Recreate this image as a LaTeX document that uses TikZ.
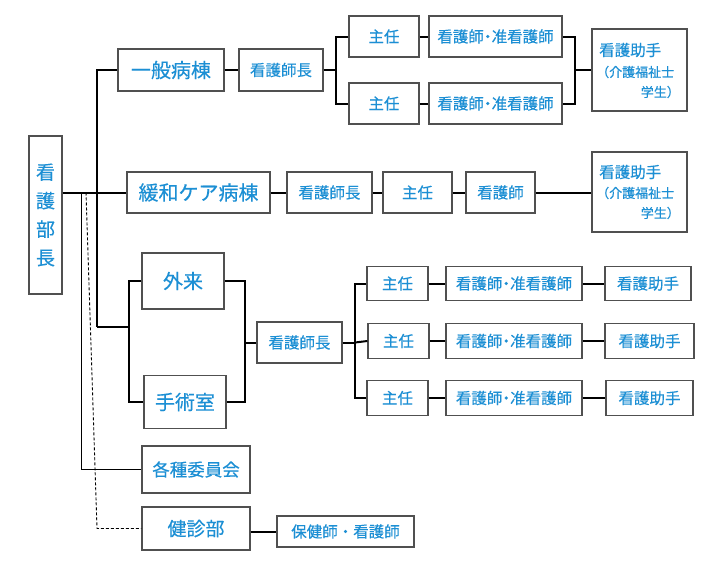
\documentclass[tikz,border=0pt]{standalone}
\usepackage{fontspec}
\setmainfont{Noto Sans CJK JP}[BoldFont=Noto Sans CJK JP, BoldFeatures={FakeBold=0.35}]
\definecolor{tblue}{RGB}{28,143,212}
\definecolor{bgray}{RGB}{80,80,80}
\newcommand\myfs[1]{\fontsize{#1}{#1}\selectfont\bfseries}
\newcommand\ndot{\kern-0.25em・\kern-0.25em}
\tikzset{
  bx/.style={draw=bgray, line width=1.2pt, fill=white, inner sep=0pt, text=tblue, align=center},
  sz/.style 2 args={minimum width=#1pt, minimum height=#2pt},
  big/.style={font=\myfs{20}},
  mid/.style={font=\myfs{15.5}},
  conn/.style={line width=2pt, black},
  thinconn/.style={line width=1pt, black},
  dashconn/.style={line width=0.9pt, black, dashed, dash pattern=on 3pt off 2pt},
  lbl/.style={inner sep=0pt, text=tblue},
}
\begin{document}
\begin{tikzpicture}[x=1pt,y=-1pt]
\useasboundingbox (0,0) rectangle (719,565);

% head
\node[bx, sz={33}{158}, font=\fontsize{19}{28.5}\selectfont\bfseries] (bucho) at (45.5,215) {看\\護\\部\\長};

% row 1
\node[bx, sz={106}{42}, big] (ippan) at (171,70) {一般病棟};
\node[bx, sz={84}{42}, mid] (kc1) at (281,70) {看護師長};
\node[bx, sz={70}{41}, mid] (sh1a) at (384,36.5) {主任};
\node[bx, sz={70}{41}, mid] (sh1b) at (384,103.5) {主任};
\node[bx, sz={133}{41}, mid] (kj1a) at (495.5,36.5) {看護師\ndot 准看護師};
\node[bx, sz={133}{41}, mid] (kj1b) at (495.5,103.5) {看護師\ndot 准看護師};
\node[bx, sz={95}{82}] (jo1) at (639.5,70) {};
\node[lbl, anchor=west, font=\myfs{15.5}] (jo1a) at (599,50) {看護助手};
\node[lbl, anchor=west, font=\myfs{13}] (jo1b) at (596,72) {（介護福祉士};
\node[lbl, anchor=east, font=\myfs{13}] (jo1c) at (680,92) {学生）};

% row 2
\node[bx, sz={143}{41}, big] (kanwa) at (198.5,192.5) {緩和ケア病棟};
\node[bx, sz={85}{41}, mid] (kc2) at (329.5,192.5) {看護師長};
\node[bx, sz={69}{41}, mid] (sh2) at (417.5,192.5) {主任};
\node[bx, sz={69}{41}, mid] (kg2) at (500.5,192.5) {看護師};
\node[bx, sz={95}{80}] (jo2) at (639.5,192) {};
\node[lbl, anchor=west, font=\myfs{15.5}] (jo2a) at (599,172) {看護助手};
\node[lbl, anchor=west, font=\myfs{13}] (jo2b) at (596,193) {（介護福祉士};
\node[lbl, anchor=east, font=\myfs{13}] (jo2c) at (680,213) {学生）};

% row 3
\node[bx, sz={82}{56}, big] (gairai) at (183,281) {外来};
\node[bx, sz={82}{53}, big] (shujutsu) at (185,402) {手術室};
\node[bx, sz={85}{41}, mid] (kc3) at (299.5,342.5) {看護師長};
\node[bx, sz={61}{34}, mid] (sh3a) at (397.5,283.5) {主任};
\node[bx, sz={136}{34}, mid] (kj3a) at (514,283.5) {看護師\ndot 准看護師};
\node[bx, sz={86}{34}, mid] (jo3a) at (648,283.5) {看護助手};
\node[bx, sz={61}{35}, mid] (sh3b) at (398.5,341) {主任};
\node[bx, sz={136}{35}, mid] (kj3b) at (514,341) {看護師\ndot 准看護師};
\node[bx, sz={89}{35}, mid] (jo3b) at (649.5,341) {看護助手};
\node[bx, sz={61}{35}, mid] (sh3c) at (397.5,398) {主任};
\node[bx, sz={136}{35}, mid] (kj3c) at (514,398) {看護師\ndot 准看護師};
\node[bx, sz={87}{35}, mid] (jo3c) at (649.5,398) {看護助手};

% row 4
\node[bx, sz={108}{47}, font=\myfs{17.5}] (iin) at (196,469.5) {各種委員会};
\node[bx, sz={108}{43}, font=\myfs{19}] (kenshin) at (196,528.5) {健診部};
\node[bx, sz={137}{31}, mid] (hk) at (345.5,531.5) {保健師・看護師};

% junction coordinates
\coordinate (tTop) at (97,70);
\coordinate (tBot) at (97,327);
\coordinate (b1) at (336,70);
\coordinate (m1) at (575,70);
\coordinate (lb) at (129,327);
\coordinate (rb) at (245,342.5);
\coordinate (b3) at (355,342.5);
\coordinate (dStart) at (86,192.5);
\coordinate (dEnd) at (97,528.5);
\coordinate (sStart) at (81,192.5);

% connectors
\draw[conn] (ippan.west) -| (tTop) -- (tBot);
\draw[conn] (bucho.east |- kanwa.west) -- (kanwa.west);
\draw[conn] (ippan.east) -- (kc1.west);
\draw[conn] (kc1.east) -- (b1);
\draw[conn] (sh1a.west) -| (b1) |- (sh1b.west);
\draw[conn] (sh1a.east) -- (kj1a.west);
\draw[conn] (sh1b.east) -- (kj1b.west);
\draw[conn] (kj1a.east) -| (m1) |- (kj1b.east);
\draw[conn] (m1) -- (jo1.west);

\draw[conn] (kanwa.east) -- (kc2.west);
\draw[conn] (kc2.east) -- (sh2.west);
\draw[conn] (sh2.east) -- (kg2.west);
\draw[conn] (kg2.east) -- (jo2.west |- kg2.east);

\draw[conn] (tBot) -- (lb);
\draw[conn] (gairai.west) -| (lb) |- (shujutsu.west);
\draw[conn] (gairai.east) -| (rb) |- (shujutsu.east);
\draw[conn] (rb) -- (kc3.west);
\draw[conn] (kc3.east) -- (b3);
\draw[conn] (sh3a.west) -| (b3) |- (sh3c.west);
\draw[conn] (b3) -- (sh3b.west);
\draw[conn] (sh3a.east) -- (kj3a.west);
\draw[conn] (kj3a.east) -- (jo3a.west);
\draw[conn] (sh3b.east) -- (kj3b.west);
\draw[conn] (kj3b.east) -- (jo3b.west);
\draw[conn] (sh3c.east) -- (kj3c.west);
\draw[conn] (kj3c.east) -- (jo3c.west);

\draw[thinconn] (sStart) |- (iin.west);
\draw[dashconn] (dStart) -- (dEnd) -- (kenshin.west);
\draw[conn] (kenshin.east |- hk.west) -- (hk.west);
\end{tikzpicture}
\end{document}
